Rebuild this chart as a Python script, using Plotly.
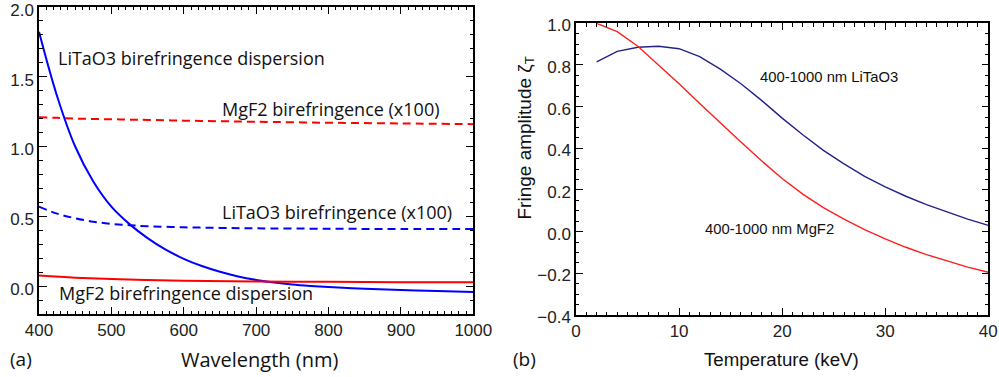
import plotly.graph_objects as go

# ---------------- Panel (a) data ----------------
wl_disp = [400, 425, 450, 475, 500, 525, 550, 575, 600, 625, 650, 675, 700, 725,
           750, 775, 800, 850, 900, 950, 1000]
litao3_disp = [1.82, 1.36, 1.00, 0.75, 0.57, 0.445, 0.345, 0.262, 0.197, 0.145, 0.104,
               0.071, 0.046, 0.027, 0.013, 0.003, -0.005, -0.017, -0.027, -0.034, -0.040]

wl_biref = [400, 425, 450, 475, 500, 525, 550, 600, 650, 700, 800, 900, 1000]
litao3_biref = [0.57, 0.52, 0.487, 0.462, 0.447, 0.437, 0.43, 0.422, 0.418, 0.415, 0.412, 0.41, 0.41]
mgf2_biref = [1.21, 1.205, 1.20, 1.197, 1.195, 1.192, 1.19, 1.185, 1.181, 1.177, 1.170, 1.165, 1.16]

wl_mgf2 = [400, 450, 500, 550, 600, 700, 800, 900, 1000]
mgf2_disp = [0.077, 0.062, 0.052, 0.045, 0.040, 0.035, 0.032, 0.030, 0.029]

# ---------------- Panel (b) data ----------------
temp_kev = [2, 4, 6, 8, 10, 12, 14, 16, 18, 20, 22, 24, 26, 28, 30, 32, 34, 36, 38, 40]
fringe_litao3 = [0.815, 0.865, 0.885, 0.89, 0.878, 0.84, 0.78, 0.71, 0.63, 0.545, 0.465,
                 0.39, 0.325, 0.265, 0.215, 0.17, 0.13, 0.095, 0.06, 0.03]
fringe_mgf2 = [1.0, 0.96, 0.89, 0.80, 0.71, 0.615, 0.52, 0.43, 0.34, 0.255, 0.18,
               0.115, 0.06, 0.01, -0.035, -0.075, -0.11, -0.14, -0.17, -0.195]

W, H = 999, 377
BLUE = "rgb(0,0,255)"
RED = "rgb(255,0,0)"
NAVY = "rgb(35,35,140)"
RED2 = "rgb(255,30,30)"
TICKFONT = dict(family="Liberation Sans, Arial, sans-serif", size=17, color="#222")
MYRIAD = "Open Sans, Noto Sans, sans-serif"
HELV = "Liberation Sans, Arial, sans-serif"

fig = go.Figure()
fig.add_trace(go.Scatter(x=wl_disp, y=litao3_disp, mode="lines", line=dict(color=BLUE, width=2, shape="spline"),
                         xaxis="x", yaxis="y"))
fig.add_trace(go.Scatter(x=wl_biref, y=litao3_biref, mode="lines", line=dict(color=BLUE, width=2, dash="8px,5px", shape="spline"),
                         xaxis="x", yaxis="y"))
fig.add_trace(go.Scatter(x=wl_biref, y=mgf2_biref, mode="lines", line=dict(color=RED, width=2, dash="8px,5px", shape="spline"),
                         xaxis="x", yaxis="y"))
fig.add_trace(go.Scatter(x=wl_mgf2, y=mgf2_disp, mode="lines", line=dict(color=RED, width=2, shape="spline"),
                         xaxis="x", yaxis="y"))

fig.add_trace(go.Scatter(x=temp_kev, y=fringe_litao3, mode="lines", line=dict(color=NAVY, width=1.4),
                         xaxis="x2", yaxis="y2"))
fig.add_trace(go.Scatter(x=temp_kev, y=fringe_mgf2, mode="lines", line=dict(color=RED2, width=1.4),
                         xaxis="x2", yaxis="y2"))

common = dict(showgrid=False, zeroline=False, showline=True, linecolor="black", linewidth=1.5,
              mirror="ticks", ticks="inside", tickcolor="black", tickwidth=1.2,
              tickfont=TICKFONT, automargin=False, tickmode="linear", tickformat=".1f",
              ticklabeloverflow="allow")

fig.update_layout(
    template="none",
    width=W, height=H, showlegend=False,
    paper_bgcolor="white", plot_bgcolor="white",
    margin=dict(l=0, r=0, t=0, b=0),
    xaxis=dict(domain=[39/W, 473.3/W], range=[400, 1000], ticklen=8,
               minor=dict(ticks="inside", dtick=10, ticklen=4, tickcolor="black", tickwidth=1),
               anchor="y", **{**common, "tickformat": "d"}, tick0=400, dtick=100),
    yaxis=dict(domain=[1-314.3/H, 1-6.7/H], range=[-0.2, 2.0], ticklen=8, ticklabelshift=3,
               minor=dict(ticks="inside", dtick=0.1, ticklen=4, tickcolor="black", tickwidth=1),
               anchor="x", **common, tick0=0, dtick=0.5),
    xaxis2=dict(domain=[576/W, 988.3/W], range=[0, 40], ticklen=7,
                minor=dict(ticks="inside", dtick=1, ticklen=3.5, tickcolor="black", tickwidth=1),
                anchor="y2", **{**common, "tickformat": "d"}, tick0=0, dtick=10),
    yaxis2=dict(domain=[1-315/H, 1-23.3/H], range=[-0.4, 1.0], ticklen=7, ticklabelshift=2,
                minor=dict(ticks="inside", dtick=0.05, ticklen=3.5, tickcolor="black", tickwidth=1),
                anchor="x2", **common, tick0=0, dtick=0.2),
)

ann = []
def txt(text, x, y, xref, yref, size, family, xanchor="left", color="#111", angle=0):
    ann.append(dict(text=text, x=x, y=y, xref=xref, yref=yref, showarrow=False,
                    xanchor=xanchor, yanchor="middle", textangle=angle,
                    font=dict(family=family, size=size, color=color)))

txt("LiTaO3 birefringence dispersion", 423.5, 1.631, "x", "y", 18, MYRIAD)
txt("MgF2 birefringence (x100)", 650, 1.267, "x", "y", 18, MYRIAD)
txt("LiTaO3 birefringence (x100)", 650, 0.531, "x", "y", 18, MYRIAD)
txt("MgF2 birefringence dispersion", 424.9, -0.047, "x", "y", 18, MYRIAD)

txt("400-1000 nm LiTaO3", 17.65, 0.744, "x2", "y2", 14.8, HELV)
txt("400-1000 nm MgF2", 12.3, 0.011, "x2", "y2", 14.8, HELV)

txt("Wavelength (nm)", 259/W, 1-359/H, "paper", "paper", 20, MYRIAD, xanchor="center")
txt("(a)", 8/W, 1-359/H, "paper", "paper", 19, MYRIAD)
txt("Temperature (keV)", 781/W, 1-359/H, "paper", "paper", 18.7, HELV, xanchor="center")
txt("(b)", 511/W, 1-359/H, "paper", "paper", 19, MYRIAD)
txt("Fringe amplitude \u03b6<sub>T</sub>", 525/W, 1-138.5/H, "paper", "paper", 19, HELV,
    xanchor="center", angle=-90)

fig.update_layout(annotations=ann)
fig.write_html("out.html", config={"displayModeBar": False},
               post_script="document.body.style.margin='0';document.body.style.overflow='hidden';")
